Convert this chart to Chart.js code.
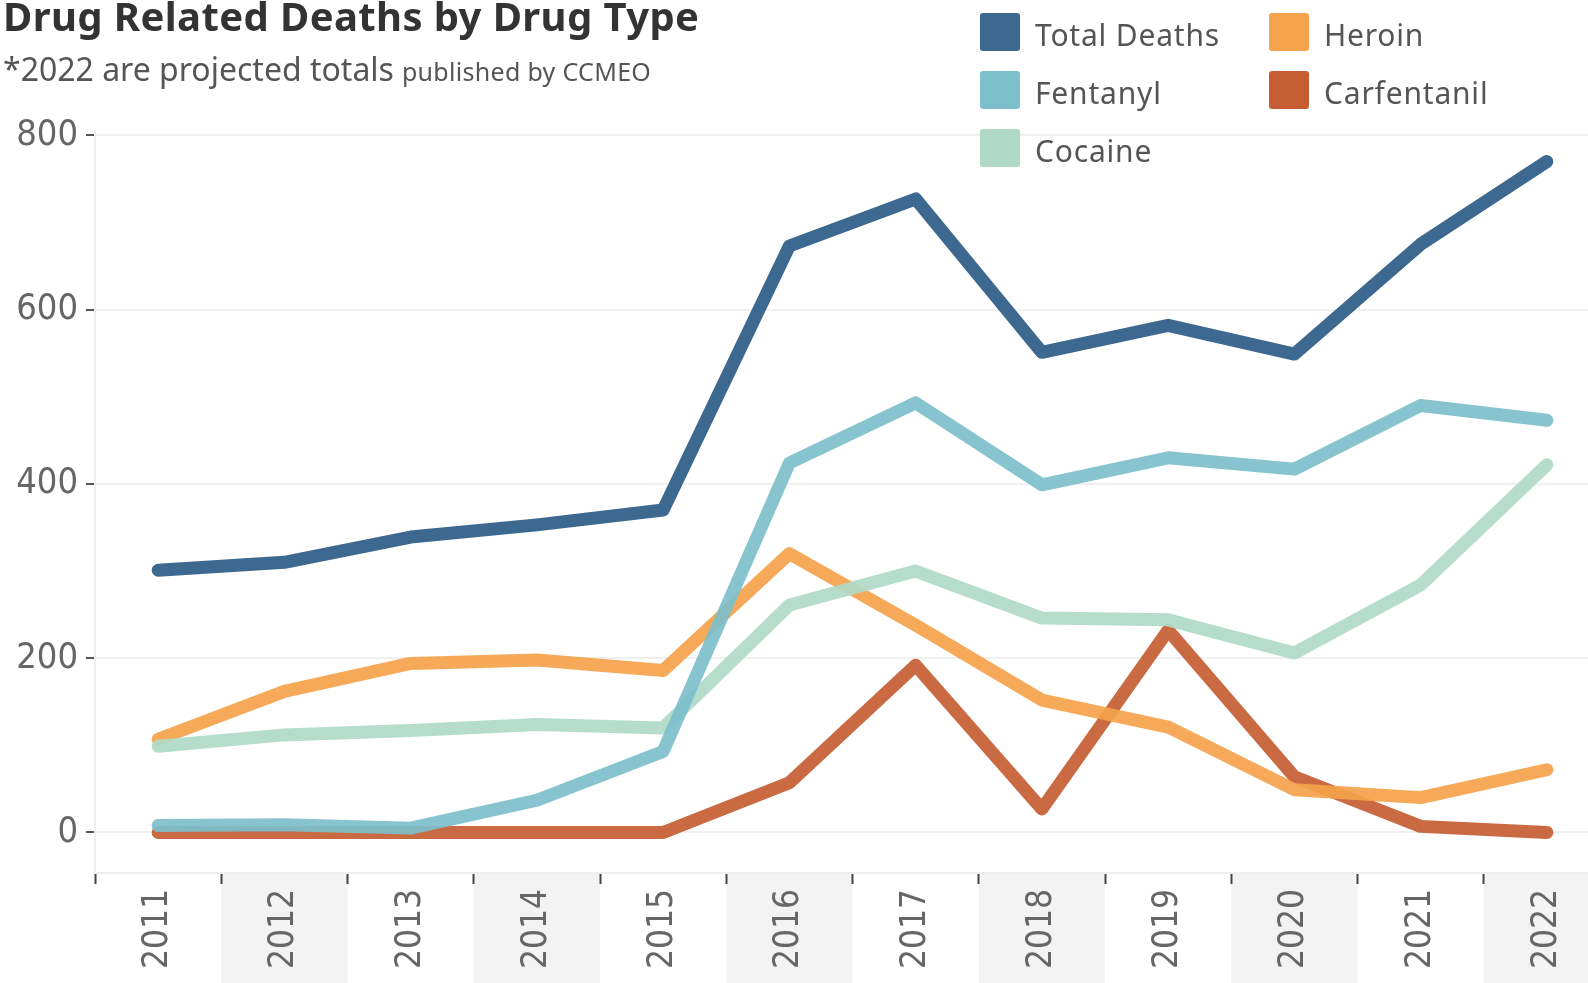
<!DOCTYPE html>
<html>
<head>
<meta charset="utf-8">
<script src="https://cdn.jsdelivr.net/npm/chart.js@4.4.1/dist/chart.umd.min.js"></script>
<style>
html, body { margin: 0; padding: 0; overflow: hidden; background: #ffffff; width: 1588px; height: 983px; }
#wrap { position: absolute; left: 0; top: 0; width: 1610px; height: 983px; }
</style>
</head>
<body>
<div id="wrap"><canvas id="chart"></canvas></div>
<script>
const years = ['2011','2012','2013','2014','2015','2016','2017','2018','2019','2020','2021','2022'];
const totalDeaths = [301, 310, 339, 353, 370, 673, 727, 551, 582, 549, 675, 770];
const fentanyl    = [8, 9, 5, 37, 93, 424, 493, 399, 430, 417, 490, 473];
const cocaine     = [99, 112, 117, 124, 120, 261, 300, 246, 244, 206, 284, 422];
const heroin      = [107, 162, 194, 198, 186, 320, 238, 152, 121, 49, 40, 72];
const carfentanil = [0, 0, 0, 0, 0, 57, 192, 27, 232, 64, 7, 0];
const seriesNames = ['Total Deaths', 'Fentanyl', 'Cocaine', 'Heroin', 'Carfentanil'];
const yTickValues = [0, 200, 400, 600, 800];
const titleText = 'Drug Related Deaths by Drug Type';
const subtitleMain = '*2022 are projected totals';
const subtitleSmall = 'published by CCMEO';

const colors = ['#3d6890', '#7dbfcb', '#b0d9c8', '#f5a34b', '#c65d33'];
const seriesValues = [totalDeaths, fentanyl, cocaine, heroin, carfentanil];

function withAlpha(hex, a) {
  const n = parseInt(hex.slice(1), 16);
  return `rgba(${(n >> 16) & 255},${(n >> 8) & 255},${n & 255},${a})`;
}

const datasets = seriesNames.map((name, i) => ({
  label: name,
  data: seriesValues[i],
  borderColor: withAlpha(colors[i], i === 0 ? 1 : 0.92),
  backgroundColor: colors[i],
  borderWidth: 13,
  borderCapStyle: 'round',
  borderJoinStyle: 'round',
  pointRadius: 0,
  pointHoverRadius: 0,
  tension: 0,
  fill: false
}));

const bandPlugin = {
  id: 'bands',
  beforeDraw(chart) {
    const { ctx, chartArea } = chart;
    const xs = chart.scales.x;
    const bw = xs.getPixelForValue(1) - xs.getPixelForValue(0);
    ctx.save();
    ctx.fillStyle = '#f3f3f3';
    for (let i = 1; i < years.length; i += 2) {
      const cx = xs.getPixelForValue(i);
      ctx.fillRect(cx - bw / 2, chartArea.bottom, bw, chart.height - chartArea.bottom);
    }
    ctx.restore();
  }
};

const textPlugin = {
  id: 'texts',
  afterDraw(chart) {
    const ctx = chart.ctx;
    ctx.save();
    ctx.textBaseline = 'alphabetic';
    ctx.textAlign = 'left';
    // title
    ctx.fillStyle = '#333333';
    ctx.font = 'bold 40px "Noto Sans"';
    ctx.letterSpacing = '0.4px';
    ctx.fillText(titleText, 3, 31);
    // subtitle
    ctx.fillStyle = '#555555';
    ctx.font = '32px "Noto Sans"';
    ctx.letterSpacing = '0px';
    ctx.fillText(subtitleMain, 3, 81);
    const w = ctx.measureText(subtitleMain).width;
    ctx.font = '25px "Noto Sans"';
    ctx.letterSpacing = '0.3px';
    ctx.fillText(subtitleSmall, 3 + w + 8, 81);
    // legend (column-major, 3 rows)
    ctx.font = '30px "Noto Sans"';
    ctx.letterSpacing = '0.8px';
    seriesNames.forEach((name, i) => {
      const col = Math.floor(i / 3);
      const row = i % 3;
      const bx = 980 + col * 289;
      const by = 13 + row * 58;
      ctx.fillStyle = colors[i];
      ctx.beginPath();
      if (ctx.roundRect) ctx.roundRect(bx, by, 40, 38, 3); else ctx.rect(bx, by, 40, 38);
      ctx.fill();
      ctx.fillStyle = '#555555';
      ctx.fillText(name, bx + 55, by + 33);
    });
    ctx.restore();
  }
};

const tickFont = { family: '"DejaVu Sans Condensed", "DejaVu Sans"', size: 36 };

new Chart(document.getElementById('chart'), {
  type: 'line',
  data: { labels: years, datasets },
  plugins: [bandPlugin, textPlugin],
  options: {
    responsive: true,
    maintainAspectRatio: false,
    animation: false,
    events: [],
    layout: { padding: { top: 131, left: 0, right: 0, bottom: 0 } },
    plugins: { legend: { display: false }, title: { display: false }, tooltip: { enabled: false } },
    scales: {
      x: {
        type: 'category',
        offset: true,
        grid: { display: true, offset: true, drawOnChartArea: false, drawTicks: true, tickLength: 11, tickColor: '#444444', tickWidth: 2 },
        border: { display: true, color: '#eeeeee', width: 2 },
        ticks: { minRotation: 90, maxRotation: 90, autoSkip: false, font: { family: '"DejaVu Sans Condensed", "DejaVu Sans"', size: 35 }, color: '#666666', padding: 5 },
        afterFit(scale) { scale.height = 110; }
      },
      y: {
        min: -46.5,
        max: 805,
        afterBuildTicks(scale) { scale.ticks = yTickValues.map(v => ({ value: v })); },
        grid: { color: '#f0f0f0', lineWidth: 2, tickColor: '#555555', tickLength: 9, tickWidth: 2 },
        border: { display: true, color: '#eeeeee', width: 2 },
        ticks: { font: tickFont, color: '#666666', padding: 8 },
        afterFit(scale) { scale.width = 95; }
      }
    }
  }
});
</script>
</body>
</html>
